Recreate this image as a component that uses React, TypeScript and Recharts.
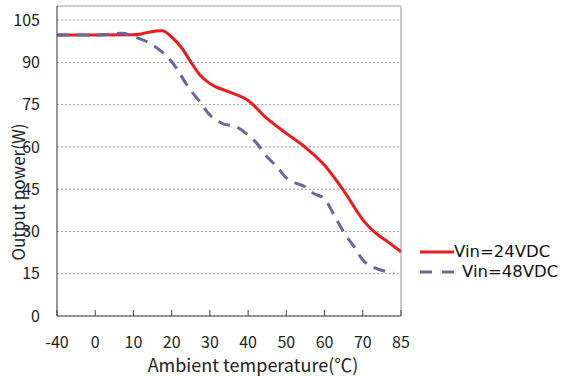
import React from 'react';
import { LineChart, Line, XAxis, YAxis, CartesianGrid, ReferenceLine, Legend } from 'recharts';

// x axis is broken: -40..0 and 70..85 each take one tick interval
const tickTemps = [-40, 0, 10, 20, 30, 40, 50, 60, 70, 85];
const tickLabels = ['-40', '0', '10', '20', '30', '40', '50', '60', '70', '85'];
const yTicks = [0, 15, 30, 45, 60, 75, 90, 105];

const vin24Temps = [-40, 0, 10, 12, 14.3, 17.5, 20, 22.7, 25, 27.4, 30, 35, 40, 45, 50, 55, 60, 65, 70, 72.5, 75, 80, 85];
const vin24Power = [99.7, 99.7, 99.8, 100.1, 100.8, 101.2, 99, 95, 90.2, 85.5, 82.5, 79.5, 76.5, 70, 64.8, 59.8, 53.5, 44.5, 34.2, 31.6, 29.5, 26.2, 22.8];

const vin48Temps = [-40, 0, 4, 7, 10.4, 14.3, 20, 25, 27.4, 30, 33, 37.5, 40, 42, 45, 47.6, 50, 52, 55, 57, 60, 62.5, 65, 67.7, 70, 75, 80, 82];
const vin48Power = [99.7, 99.7, 100, 100.3, 99, 96.8, 90.2, 80, 76, 71.3, 68.5, 66.7, 64.2, 61.7, 56.4, 52.9, 49, 47.4, 45.8, 43.6, 41.5, 35.8, 29.8, 24.6, 19.9, 17, 15.6, 15.2];

const FONT = '"Noto Sans CJK KR", "Noto Sans", sans-serif';
const LEGEND_FONT = '"DejaVu Sans", sans-serif';
const RED = '#ee1b1b';
const BLUE = '#68689a';

// map a temperature onto the tick-index axis
const toPos = (t: number) => {
  for (let i = 0; i < tickTemps.length - 1; i++) {
    if (t <= tickTemps[i + 1]) {
      return i + (t - tickTemps[i]) / (tickTemps[i + 1] - tickTemps[i]);
    }
  }
  return tickTemps.length - 1;
};

const vin24Data = vin24Temps.map((t, i) => ({ x: toPos(t), y: vin24Power[i] }));
const vin48Data = vin48Temps.map((t, i) => ({ x: toPos(t), y: vin48Power[i] }));

const YLabel = () => (
  <text
    x={17}
    y={192}
    transform="rotate(-90 17 192)"
    textAnchor="middle"
    dominantBaseline="central"
    fontSize={17}
    fontFamily={FONT}
    fill="#222"
  >
    Output power(W)
  </text>
);

const LegendBox = () => (
  <div style={{ fontFamily: LEGEND_FONT, fontSize: 16.5, color: '#111', lineHeight: '20px' }}>
    <div style={{ display: 'flex', alignItems: 'center', height: 20 }}>
      <svg width={36} height={20}>
        <line x1={2} y1={10} x2={36} y2={10} stroke={RED} strokeWidth={3} />
      </svg>
      <span>Vin=24VDC</span>
    </div>
    <div style={{ display: 'flex', alignItems: 'center', height: 20 }}>
      <svg width={44} height={20}>
        <line x1={2} y1={10} x2={36} y2={10} stroke={BLUE} strokeWidth={3} strokeDasharray="12 10" />
      </svg>
      <span>Vin=48VDC</span>
    </div>
  </div>
);

export default function App() {
  return (
    <div style={{ position: 'absolute', left: 0, top: 0, background: '#fff' }}>
      <LineChart width={566} height={376} margin={{ top: 6, right: 165, bottom: 0, left: 0 }}>
        <CartesianGrid horizontal vertical={false} stroke="#9a9a9a" strokeDasharray="2 2" />
        <XAxis
          type="number"
          dataKey="x"
          domain={[0, 9]}
          ticks={tickLabels.map((_, i) => i)}
          tickFormatter={(v: number) => tickLabels[v]}
          height={60}
          tickSize={-6}
          tickMargin={27}
          stroke="#444"
          tick={{ fill: '#222', fontSize: 16, fontFamily: FONT }}
          allowDataOverflow
          label={{ value: 'Ambient temperature(℃)', position: 'insideBottom', offset: 4, dx: 24, fill: '#222', fontSize: 18, fontFamily: FONT }}
        />
        <YAxis
          type="number"
          domain={[0, 110]}
          ticks={yTicks}
          width={57}
          tickLine={false}
          tickSize={0}
          tickMargin={17}
          stroke="#333"
          tick={{ fill: '#222', fontSize: 16, fontFamily: FONT }}
          label={<YLabel />}
        />
        <ReferenceLine y={110} stroke="#c4c4c4" strokeWidth={1.5} />
        <ReferenceLine x={9} stroke="#b8b8b8" strokeWidth={1.5} />
        <Line
          data={vin24Data}
          dataKey="y"
          type="monotone"
          stroke={RED}
          strokeWidth={3}
          dot={false}
          isAnimationActive={false}
        />
        <Line
          data={vin48Data}
          dataKey="y"
          type="monotone"
          stroke={BLUE}
          strokeWidth={3}
          strokeDasharray="12 8"
          dot={false}
          isAnimationActive={false}
        />
        <Legend
          layout="horizontal"
          verticalAlign="middle"
          align="center"
          content={<LegendBox />}
          wrapperStyle={{ position: 'absolute', left: 418, top: 242, width: 148 }}
        />
      </LineChart>
    </div>
  );
}
